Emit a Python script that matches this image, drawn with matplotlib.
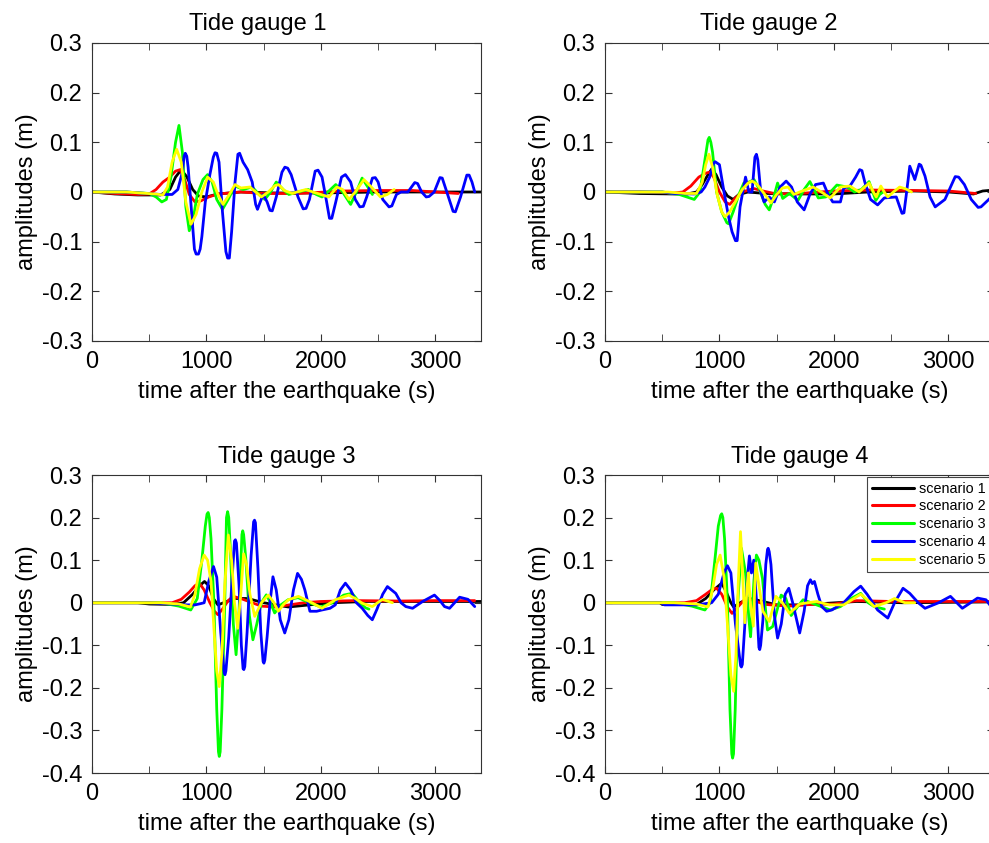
import matplotlib
matplotlib.use("Agg")
import matplotlib.pyplot as plt
from matplotlib.ticker import MultipleLocator

plt.rcParams['font.family'] = ['Liberation Sans', 'DejaVu Sans']
plt.rcParams['axes.unicode_minus'] = False

# (time [s], amplitude [m]) samples for every tide gauge / scenario
# ---- tide gauge 1
g1_s1 = [(0, 0), (200, -0.004), (400, -0.006), (600, -0.006), (680, 0.005), (730, 0.03), (780, 0.045),
         (830, 0.03), (880, 0.005), (930, -0.008), (1000, -0.01), (1100, -0.004), (1300, 0.0),
         (1600, -0.002), (2000, -0.002), (2500, 0.0), (3000, 0.0), (3400, 0.0)]
g1_s2 = [(0, 0), (200, -0.003), (400, -0.005), (500, -0.004), (560, 0.005), (620, 0.02), (680, 0.03),
         (730, 0.042), (770, 0.045), (810, 0.025), (850, -0.005), (900, -0.02), (950, -0.018),
         (1020, -0.01), (1100, -0.004), (1300, 0.0), (1500, -0.003), (1800, -0.003), (2200, 0.002),
         (2500, 0.003), (2800, 0.003), (3000, 0.0), (3200, -0.003)]
g1_s3 = [(0, 0), (300, 0), (500, -0.003), (560, -0.01), (610, -0.02), (650, -0.015), (690, 0.03),
         (730, 0.1), (760, 0.134), (790, 0.08), (820, -0.03), (850, -0.078), (880, -0.06), (920, -0.005),
         (970, 0.025), (1010, 0.035), (1050, 0.02), (1090, -0.015), (1140, -0.035), (1190, -0.015),
         (1250, 0.012), (1320, 0.005), (1400, 0.01), (1460, -0.005), (1510, -0.015), (1560, 0.0),
         (1610, 0.02), (1670, 0.005), (1720, -0.005), (1800, 0.0), (1890, 0.005), (1960, -0.005),
         (2010, -0.01), (2070, 0.002), (2130, 0.015), (2190, 0.0), (2260, -0.025), (2310, 0.0),
         (2360, 0.028), (2410, 0.01), (2450, -0.005)]
g1_s4 = [(0, 0), (300, 0), (600, -0.005), (700, -0.005), (750, 0.005), (790, 0.04), (805, 0.072),
         (815, 0.078), (828, 0.072), (840, 0.05), (870, -0.04), (895, -0.115), (910, -0.125),
         (930, -0.125), (945, -0.115), (960, -0.09), (990, -0.02), (1030, 0.035), (1060, 0.07),
         (1075, 0.079), (1090, 0.078), (1110, 0.06), (1140, -0.04), (1170, -0.12), (1185, -0.133),
         (1200, -0.133), (1220, -0.08), (1250, 0.02), (1275, 0.076), (1290, 0.078), (1320, 0.06),
         (1360, 0.045), (1400, 0.02), (1430, -0.025), (1446, -0.035), (1470, -0.02), (1496, -0.005),
         (1530, -0.02), (1555, -0.037), (1575, -0.038), (1610, -0.01), (1660, 0.04), (1685, 0.05),
         (1710, 0.048), (1740, 0.035), (1800, -0.01), (1845, -0.034), (1870, -0.033), (1900, -0.015),
         (1950, 0.042), (1975, 0.044), (2010, 0.03), (2050, -0.02), (2075, -0.053), (2095, -0.053),
         (2130, -0.02), (2180, 0.03), (2214, 0.035), (2260, 0.02), (2300, -0.015), (2340, -0.03),
         (2370, -0.029), (2400, -0.01), (2450, 0.028), (2475, 0.029), (2500, 0.02), (2540, -0.015),
         (2595, -0.03), (2620, -0.028), (2660, -0.005), (2700, 0.0), (2760, 0.0), (2820, 0.019),
         (2845, 0.017), (2880, 0.0), (2920, -0.01), (2945, -0.009), (2990, 0.0), (3040, 0.029),
         (3060, 0.028), (3100, 0.0), (3155, -0.039), (3175, -0.04), (3220, -0.01), (3275, 0.034),
         (3295, 0.034), (3320, 0.02), (3344, 0.0)]
g1_s5 = [(0, 0), (300, 0), (550, -0.004), (620, -0.006), (660, 0.01), (700, 0.06), (740, 0.086),
         (780, 0.06), (820, -0.02), (865, -0.065), (910, -0.045), (960, 0.0), (1010, 0.03), (1060, 0.02),
         (1100, -0.005), (1145, -0.025), (1200, -0.005), (1250, 0.015), (1300, 0.008), (1380, 0.01),
         (1430, 0.0), (1480, -0.01), (1540, 0.0), (1600, 0.013), (1630, 0.015), (1680, 0.003),
         (1750, -0.003), (1820, 0.002), (1870, 0.005), (1930, 0.0), (2000, -0.005), (2070, -0.01),
         (2140, 0.01), (2190, 0.005), (2245, -0.015), (2300, 0.0), (2376, 0.025), (2440, 0.01),
         (2520, -0.01), (2580, -0.005), (2640, 0.005)]

# ---- tide gauge 2
g2_s1 = [(0, 0), (300, -0.003), (600, -0.004), (720, -0.004), (800, 0.0), (850, 0.015), (900, 0.035),
         (932, 0.046), (970, 0.035), (1020, 0.01), (1070, -0.008), (1120, -0.015), (1170, -0.005),
         (1250, 0.0), (1400, -0.003), (1700, -0.004), (2000, -0.004), (2300, 0.0), (2700, 0.002),
         (3000, 0.0), (3220, -0.004), (3300, 0.002), (3400, 0.004)]
g2_s2 = [(0, 0), (300, 0), (600, -0.002), (680, 0.0), (750, 0.012), (820, 0.03), (880, 0.038),
         (917, 0.04), (950, 0.03), (1000, 0.0), (1050, -0.02), (1090, -0.025), (1140, -0.012),
         (1200, 0.0), (1300, 0.007), (1380, 0.002), (1500, -0.004), (1700, -0.003), (2000, 0.002),
         (2300, 0.004), (2700, 0.003), (3000, 0.002), (3240, -0.003)]
g2_s3 = [(0, 0), (500, 0), (650, -0.005), (780, -0.015), (830, 0.0), (870, 0.06), (900, 0.105),
         (911, 0.11), (925, 0.1), (940, 0.08), (975, 0.0), (1020, -0.04), (1065, -0.062), (1080, -0.064),
         (1120, -0.04), (1170, -0.005), (1213, 0.018), (1260, 0.02), (1302, 0.025), (1350, 0.005),
         (1400, -0.025), (1435, -0.036), (1475, -0.01), (1508, 0.018), (1553, -0.013), (1612, -0.003),
         (1686, -0.017), (1740, 0.005), (1790, 0.021), (1864, -0.012), (1930, -0.01), (2026, 0.014),
         (2115, 0.01), (2180, 0.0), (2240, 0.005), (2307, 0.021), (2366, -0.017), (2400, -0.005),
         (2430, 0.0)]
g2_s4 = [(0, 0), (500, 0), (600, -0.003), (780, -0.004), (840, 0.0), (873, 0.01), (915, 0.03),
         (950, 0.058), (962, 0.061), (1000, 0.055), (1040, 0.0), (1080, -0.05), (1110, -0.08),
         (1140, -0.098), (1155, -0.098), (1180, -0.03), (1228, 0.03), (1257, 0.0), (1285, 0.0),
         (1310, 0.07), (1323, 0.076), (1335, 0.065), (1361, 0.0), (1390, -0.02), (1435, -0.01),
         (1480, -0.02), (1530, 0.01), (1583, 0.022), (1630, 0.01), (1680, -0.02), (1740, -0.036),
         (1790, -0.005), (1840, 0.015), (1908, 0.018), (1950, -0.005), (1990, -0.02), (2057, -0.02),
         (2086, 0.008), (2140, 0.012), (2190, 0.03), (2225, 0.045), (2245, 0.043), (2270, 0.02),
         (2320, -0.015), (2382, -0.026), (2440, -0.012), (2545, -0.01), (2595, -0.043), (2612, -0.042),
         (2630, -0.01), (2663, 0.052), (2707, 0.025), (2745, 0.056), (2760, 0.054), (2796, 0.032),
         (2840, -0.01), (2885, -0.03), (2970, -0.015), (3060, 0.031), (3090, 0.03), (3140, 0.015),
         (3200, -0.015), (3260, -0.031), (3285, -0.03), (3367, -0.012)]
g2_s5 = [(0, 0), (550, 0), (700, -0.003), (800, -0.003), (850, 0.02), (880, 0.055), (908, 0.076),
         (940, 0.05), (980, -0.005), (1020, -0.04), (1050, -0.05), (1090, -0.04), (1150, -0.015),
         (1200, 0.005), (1250, 0.018), (1287, 0.022), (1330, 0.015), (1380, 0.0), (1420, -0.012),
         (1450, -0.022), (1500, -0.005), (1550, 0.008), (1600, 0.01), (1650, -0.005), (1700, 0.0),
         (1760, 0.005), (1820, 0.01), (1890, 0.0), (1968, -0.012), (2057, 0.01), (2140, 0.012),
         (2220, 0.0), (2308, 0.018), (2345, 0.0), (2370, -0.01), (2410, 0.012), (2440, 0.0),
         (2471, -0.01), (2520, 0.0), (2574, 0.01), (2630, 0.006), (2678, 0.0)]

# ---- tide gauge 3
g3_s1 = [(0, 0), (400, 0), (500, -0.003), (700, -0.004), (800, 0.0), (880, 0.02), (940, 0.04),
         (983, 0.05), (1020, 0.04), (1060, 0.01), (1100, -0.005), (1150, 0.0), (1250, 0.01),
         (1360, 0.01), (1500, 0.0), (1716, -0.01), (1900, -0.005), (2100, 0.0), (2400, 0.003),
         (2800, 0.003), (3400, 0.003)]
g3_s2 = [(0, 0), (500, 0), (700, 0.0), (780, 0.008), (850, 0.025), (900, 0.04), (939, 0.046),
         (980, 0.03), (1030, 0.0), (1070, -0.02), (1100, -0.028), (1140, -0.015), (1190, 0.005),
         (1232, 0.015), (1300, 0.01), (1400, 0.0), (1480, -0.008), (1600, -0.01), (1700, -0.006),
         (1850, 0.0), (2000, 0.003), (2300, 0.005), (2700, 0.004), (3000, 0.005), (3344, 0.005)]
g3_s3 = [(0, 0), (600, 0), (760, -0.008), (863, -0.017), (920, 0.01), (960, 0.1), (990, 0.18),
         (1005, 0.208), (1015, 0.212), (1025, 0.2), (1040, 0.15), (1065, 0.0), (1090, -0.25),
         (1105, -0.35), (1112, -0.361), (1120, -0.35), (1135, -0.25), (1160, 0.0), (1175, 0.2),
         (1185, 0.214), (1195, 0.2), (1210, 0.12), (1235, -0.05), (1259, -0.122), (1285, -0.02),
         (1310, 0.16), (1317, 0.169), (1325, 0.16), (1345, 0.1), (1375, -0.03), (1406, -0.087),
         (1440, -0.05), (1480, 0.0), (1523, 0.0185), (1560, 0.0), (1596, -0.024), (1650, -0.005),
         (1713, 0.007), (1800, 0.012), (1900, 0.0), (2000, -0.01), (2100, 0.0), (2200, 0.018),
         (2273, 0.022), (2340, 0.0), (2390, -0.012), (2420, -0.015)]
g3_s4 = [(0, 0), (500, 0), (700, -0.003), (830, -0.005), (900, -0.005), (950, -0.002), (980, 0.0),
         (1020, 0.05), (1062, 0.085), (1090, 0.06), (1125, -0.07), (1155, -0.165), (1162, -0.169),
         (1170, -0.16), (1195, -0.08), (1225, 0.06), (1245, 0.145), (1253, 0.148), (1262, 0.14),
         (1285, 0.04), (1305, -0.1), (1320, -0.155), (1327, -0.157), (1335, -0.15), (1355, -0.07),
         (1390, 0.11), (1412, 0.19), (1420, 0.194), (1428, 0.188), (1450, 0.08), (1475, -0.07),
         (1495, -0.138), (1502, -0.142), (1510, -0.135), (1530, -0.08), (1555, 0.0), (1581, 0.061),
         (1610, 0.03), (1645, -0.04), (1684, -0.071), (1720, -0.04), (1760, 0.03), (1796, 0.069),
         (1830, 0.055), (1860, 0.03), (1904, -0.02), (1963, -0.02), (2009, -0.017), (2080, -0.013),
         (2126, -0.005), (2170, 0.03), (2214, 0.046), (2260, 0.03), (2310, 0.0), (2361, -0.013),
         (2410, -0.03), (2449, -0.04), (2490, -0.015), (2540, 0.02), (2581, 0.038), (2654, 0.022),
         (2700, 0.0), (2742, -0.009), (2801, -0.013), (2889, 0.003), (2992, 0.018), (3040, 0.005),
         (3080, -0.009), (3124, -0.013), (3212, 0.013), (3285, 0.008), (3344, -0.009)]
g3_s5 = [(0, 0), (600, 0), (760, -0.003), (860, -0.01), (900, 0.02), (940, 0.08), (980, 0.112),
         (1010, 0.1), (1040, 0.05), (1070, -0.08), (1090, -0.16), (1112, -0.197), (1135, -0.12),
         (1160, 0.04), (1191, 0.159), (1220, 0.1), (1245, 0.0), (1273, -0.06), (1300, 0.02),
         (1325, 0.115), (1350, 0.09), (1380, 0.02), (1422, -0.032), (1480, 0.0), (1540, 0.018),
         (1590, 0.0), (1628, -0.02), (1670, -0.005), (1716, 0.007), (1804, 0.015), (1921, 0.0),
         (2009, -0.013), (2126, 0.007), (2244, 0.018), (2300, 0.01), (2361, -0.001), (2449, -0.009),
         (2537, 0.008), (2625, 0.0)]

# ---- tide gauge 4
g4_s1 = [(0, 0), (480, 0), (500, -0.004), (800, -0.004), (880, 0.01), (950, 0.03), (1020, 0.046),
         (1060, 0.025), (1100, 0.0), (1124, -0.01), (1180, 0.0), (1258, 0.01), (1350, 0.005),
         (1500, -0.005), (1700, -0.005), (1900, -0.002), (2200, 0.003), (2600, 0.0), (3000, 0.001),
         (3400, 0.002)]
g4_s2 = [(0, 0), (600, 0), (695, 0.0), (800, 0.005), (880, 0.02), (940, 0.032), (976, 0.034),
         (1020, 0.02), (1070, -0.01), (1110, -0.025), (1160, -0.01), (1228, 0.01), (1300, 0.005),
         (1400, -0.004), (1600, -0.008), (1800, -0.004), (2000, -0.003), (2200, 0.005), (2500, 0.003),
         (2900, 0.003), (3400, 0.003)]
g4_s3 = [(0, 0), (600, 0), (760, -0.008), (873, -0.017), (920, 0.0), (960, 0.1), (990, 0.18),
         (1010, 0.205), (1020, 0.209), (1030, 0.2), (1045, 0.15), (1070, 0.0), (1092, -0.25),
         (1108, -0.355), (1115, -0.365), (1123, -0.355), (1138, -0.25), (1160, 0.0), (1192, 0.128),
         (1228, 0.07), (1258, -0.04), (1272, -0.08), (1302, 0.054), (1323, 0.112), (1345, 0.1),
         (1376, 0.057), (1420, -0.064), (1465, -0.056), (1539, 0.018), (1580, 0.01), (1627, -0.03),
         (1680, -0.01), (1731, 0.007), (1849, -0.005), (1968, -0.017), (2057, -0.009), (2150, 0.01),
         (2234, 0.022), (2300, 0.0), (2352, -0.009), (2441, -0.015)]
g4_s4 = [(0, 0), (490, 0), (520, -0.005), (800, -0.005), (932, 0.0), (990, 0.02), (1040, 0.07),
         (1070, 0.087), (1100, 0.07), (1140, -0.05), (1185, -0.148), (1192, -0.151), (1200, -0.145),
         (1220, -0.06), (1245, 0.06), (1262, 0.11), (1280, 0.07), (1300, 0.10), (1325, 0.0),
         (1345, -0.105), (1352, -0.11), (1360, -0.1), (1380, -0.04), (1405, 0.09), (1420, 0.125),
         (1426, 0.128), (1435, 0.12), (1450, 0.09), (1480, -0.03), (1508, -0.083), (1540, -0.05),
         (1575, 0.02), (1606, 0.034), (1640, 0.0), (1701, -0.071), (1740, -0.02), (1770, 0.04),
         (1795, 0.054), (1812, 0.045), (1830, 0.05), (1860, 0.02), (1894, -0.009), (1937, -0.02),
         (1982, -0.017), (2086, 0.0), (2175, 0.026), (2234, 0.039), (2290, 0.02), (2382, -0.017),
         (2471, -0.036), (2530, 0.0), (2604, 0.034), (2663, 0.022), (2737, 0.0), (2796, -0.013),
         (2915, 0.0), (3018, 0.015), (3122, -0.013), (3255, 0.011), (3329, 0.007), (3373, -0.009)]
g4_s5 = [(0, 0), (600, 0), (800, -0.003), (900, -0.01), (940, 0.03), (975, 0.09), (1006, 0.112),
         (1040, 0.06), (1070, -0.05), (1100, -0.17), (1124, -0.208), (1145, -0.12), (1165, 0.05),
         (1184, 0.167), (1200, 0.08), (1222, -0.047), (1240, 0.03), (1252, 0.07), (1270, 0.0),
         (1296, -0.055), (1317, 0.093), (1340, 0.05), (1380, -0.02), (1435, -0.044), (1494, 0.015),
         (1550, 0.0), (1612, -0.025), (1700, -0.003), (1849, 0.003), (1960, -0.005), (2086, -0.005),
         (2234, 0.02), (2300, 0.005), (2352, -0.009), (2456, 0.0), (2530, 0.01), (2619, 0.0),
         (2707, 0.0)]

gauges = [
    ("Tide gauge 1", [g1_s1, g1_s2, g1_s3, g1_s4, g1_s5], (-0.3, 0.3)),
    ("Tide gauge 2", [g2_s1, g2_s2, g2_s3, g2_s4, g2_s5], (-0.3, 0.3)),
    ("Tide gauge 3", [g3_s1, g3_s2, g3_s3, g3_s4, g3_s5], (-0.4, 0.3)),
    ("Tide gauge 4", [g4_s1, g4_s2, g4_s3, g4_s4, g4_s5], (-0.4, 0.3)),
]
scenarios = ["scenario 1", "scenario 2", "scenario 3", "scenario 4", "scenario 5"]
colors = ["#000000", "#ff0000", "#00ff00", "#0000ff", "#ffff00"]

fig = plt.figure(figsize=(9.89, 8.43), dpi=100)
# axes boxes in figure fractions (left, bottom, width, height)
boxes = [(0.093, 0.5955, 0.3935, 0.3535), (0.6117, 0.5955, 0.3935, 0.3535),
         (0.093, 0.083, 0.3935, 0.3535), (0.6117, 0.083, 0.3935, 0.3535)]
title_x = [0.425, 0.42, 0.5, 0.5]

for i, (title, series, ylim) in enumerate(gauges):
    ax = fig.add_axes(boxes[i])
    for s, name, c in zip(series, scenarios, colors):
        t, a = zip(*s)
        ax.plot(t, a, color=c, lw=2.0, label=name,
                solid_joinstyle="round", solid_capstyle="round")
    ax.set_xlim(0, 3400)
    ax.set_ylim(*ylim)
    ax.xaxis.set_major_locator(MultipleLocator(1000))
    ax.xaxis.set_minor_locator(MultipleLocator(500))
    ax.yaxis.set_major_locator(MultipleLocator(0.1))
    ax.yaxis.set_major_formatter(plt.FuncFormatter(lambda v, p: "0" if abs(v) < 1e-9 else f"{v:.1f}"))
    ax.tick_params(which="both", direction="in", top=True, right=True, labelsize=17,
                   color="#333333", pad=7, length=5)
    for sp in ax.spines.values():
        sp.set_color("#333333")
        sp.set_linewidth(0.8)
    ax.set_title(title, fontsize=17, x=title_x[i], pad=9)
    ax.set_xlabel("time after the earthquake (s)", fontsize=17, labelpad=6)
    ax.set_ylabel("amplitudes (m)", fontsize=17, labelpad=3)
    if i == 3:
        leg = ax.legend(loc="upper left", bbox_to_anchor=(0.673, 0.995), fontsize=10.4,
                        frameon=True, fancybox=False, framealpha=1, edgecolor="#444444",
                        borderaxespad=0, borderpad=0.35, labelspacing=0.26,
                        handlelength=2.9, handletextpad=0.35)
        leg.get_frame().set_linewidth(0.8)
        for ln in leg.get_lines():
            ln.set_linewidth(2.2)

fig.savefig("out.png", dpi=100)
